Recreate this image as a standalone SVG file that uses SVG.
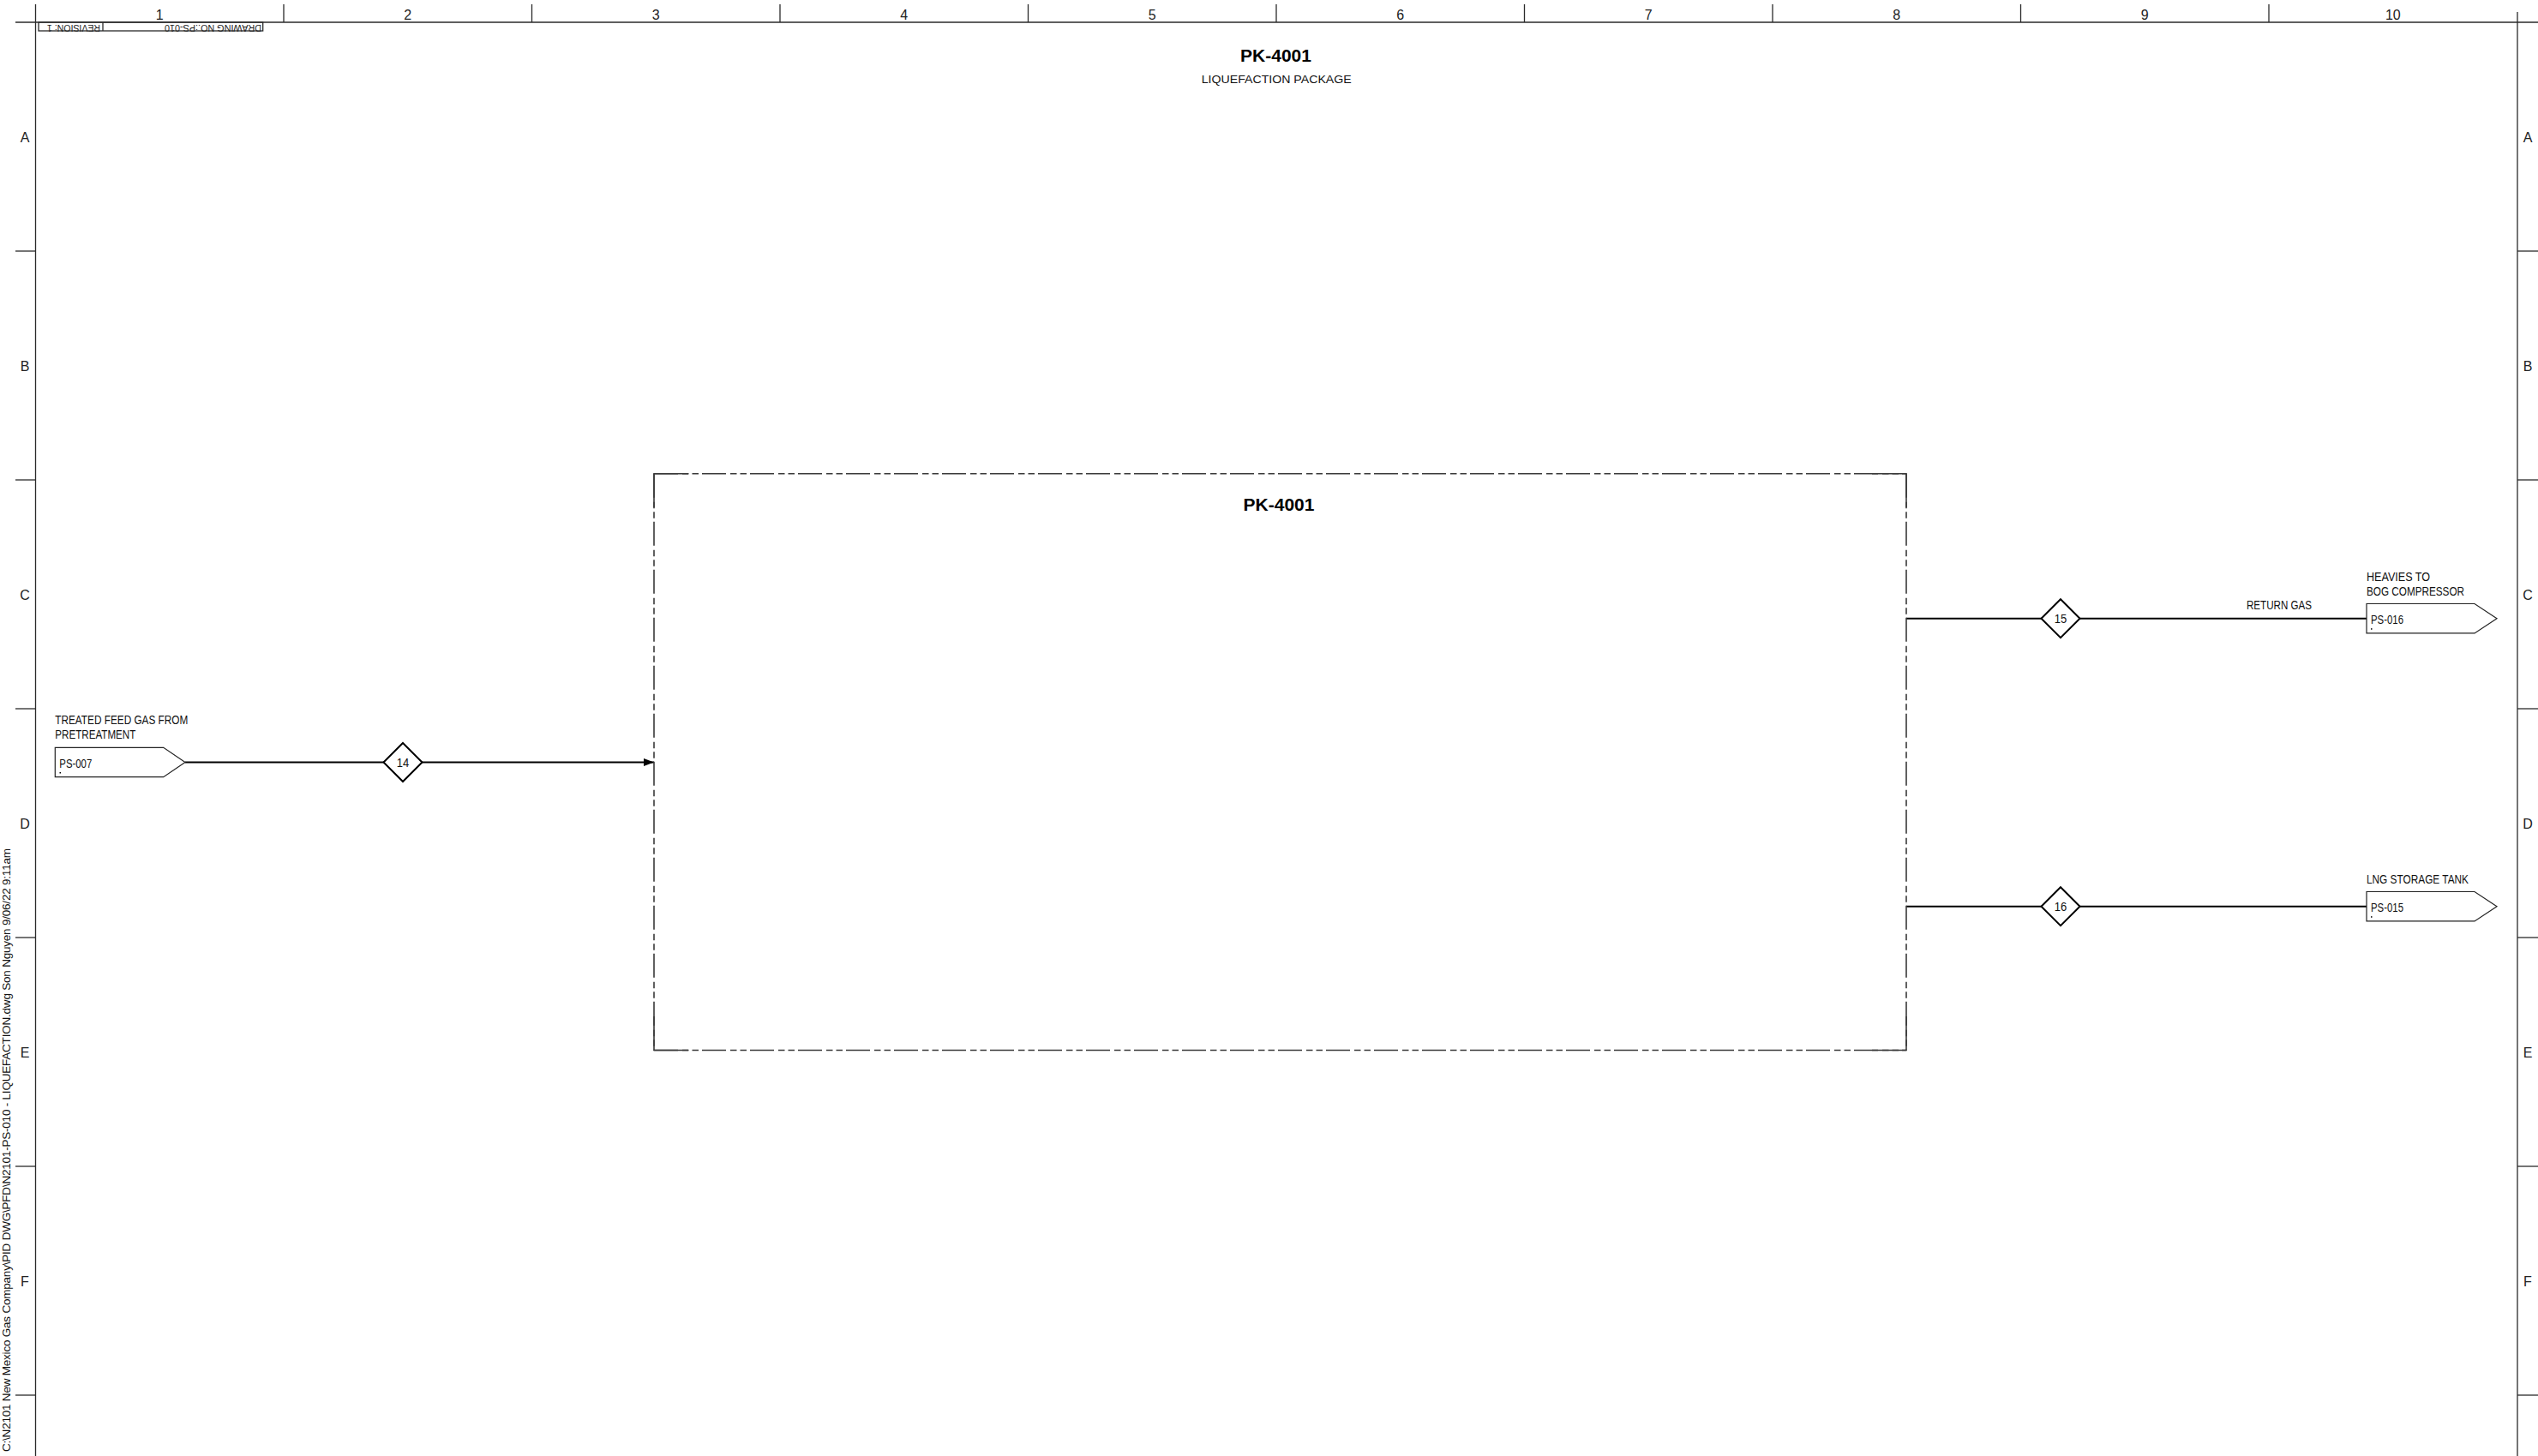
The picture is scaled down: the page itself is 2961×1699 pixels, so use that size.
<svg xmlns="http://www.w3.org/2000/svg" width="2961" height="1699" viewBox="0 0 2961 1699">
<defs>
<style>
.frame{stroke:#2a2a2a;stroke-width:1.3;fill:none}
.grid{font-family:"Liberation Sans",Arial,sans-serif;font-size:16px;fill:#222;text-anchor:middle}
.lbl{font-family:"Liberation Sans",Arial,sans-serif;font-size:14px;fill:#111}
.num{font-family:"Liberation Sans",Arial,sans-serif;font-size:14px;fill:#111;text-anchor:middle}
.ttl{font-family:"Liberation Sans",Arial,sans-serif;font-size:21px;font-weight:bold;fill:#000;text-anchor:middle}
.sub{font-family:"Liberation Sans",Arial,sans-serif;font-size:13.5px;fill:#111}
.cad{font-family:"Liberation Sans",Arial,sans-serif;font-size:10px;fill:#222}
.pipe{stroke:#000;stroke-width:2;fill:none}
.opc{stroke:#222;stroke-width:1.2;fill:#fff}
.dia{stroke:#000;stroke-width:2;fill:#fff}
.pkg{stroke:#3a3a3a;stroke-width:1.6;fill:none;stroke-dasharray:28 5 7.5 4 7.5 4}
.pkgc{stroke:#3a3a3a;stroke-width:1.6;fill:none}
</style>
<marker id="arr" viewBox="0 0 12 10" refX="12" refY="5" markerWidth="12" markerHeight="10" markerUnits="userSpaceOnUse" orient="auto">
<path d="M0,0.5 L12,5 L0,9.5 Z" fill="#000"/>
</marker>
</defs>
<rect x="0" y="0" width="2961" height="1699" fill="#fff"/>

<g id="frame">
<line class="frame" x1="18" y1="26" x2="2961" y2="26"/>
<line class="frame" x1="41.5" y1="5" x2="41.5" y2="1699"/>
<line class="frame" x1="2937" y1="14" x2="2937" y2="1699"/>
<line class="frame" x1="331" y1="5" x2="331" y2="26"/>
<line class="frame" x1="620.5" y1="5" x2="620.5" y2="26"/>
<line class="frame" x1="910" y1="5" x2="910" y2="26"/>
<line class="frame" x1="1199.5" y1="5" x2="1199.5" y2="26"/>
<line class="frame" x1="1489" y1="5" x2="1489" y2="26"/>
<line class="frame" x1="1778.5" y1="5" x2="1778.5" y2="26"/>
<line class="frame" x1="2068" y1="5" x2="2068" y2="26"/>
<line class="frame" x1="2357.5" y1="5" x2="2357.5" y2="26"/>
<line class="frame" x1="2647" y1="5" x2="2647" y2="26"/>
<text class="grid" x="186.3" y="22.5">1</text>
<text class="grid" x="475.8" y="22.5">2</text>
<text class="grid" x="765.3" y="22.5">3</text>
<text class="grid" x="1054.8" y="22.5">4</text>
<text class="grid" x="1344.3" y="22.5">5</text>
<text class="grid" x="1633.8" y="22.5">6</text>
<text class="grid" x="1923.3" y="22.5">7</text>
<text class="grid" x="2212.8" y="22.5">8</text>
<text class="grid" x="2502.3" y="22.5">9</text>
<text class="grid" x="2791.8" y="22.5">10</text>
<line class="frame" x1="18" y1="293" x2="41.5" y2="293"/>
<line class="frame" x1="18" y1="560" x2="41.5" y2="560"/>
<line class="frame" x1="18" y1="827" x2="41.5" y2="827"/>
<line class="frame" x1="18" y1="1094" x2="41.5" y2="1094"/>
<line class="frame" x1="18" y1="1361" x2="41.5" y2="1361"/>
<line class="frame" x1="18" y1="1628" x2="41.5" y2="1628"/>
<line class="frame" x1="2937" y1="293" x2="2961" y2="293"/>
<line class="frame" x1="2937" y1="560" x2="2961" y2="560"/>
<line class="frame" x1="2937" y1="827" x2="2961" y2="827"/>
<line class="frame" x1="2937" y1="1094" x2="2961" y2="1094"/>
<line class="frame" x1="2937" y1="1361" x2="2961" y2="1361"/>
<line class="frame" x1="2937" y1="1628" x2="2961" y2="1628"/>
<text class="grid" x="29" y="165.5">A</text>
<text class="grid" x="29" y="432.5">B</text>
<text class="grid" x="29" y="699.5">C</text>
<text class="grid" x="29" y="966.5">D</text>
<text class="grid" x="29" y="1233.5">E</text>
<text class="grid" x="29" y="1500.5">F</text>
<text class="grid" x="2949" y="165.5">A</text>
<text class="grid" x="2949" y="432.5">B</text>
<text class="grid" x="2949" y="699.5">C</text>
<text class="grid" x="2949" y="966.5">D</text>
<text class="grid" x="2949" y="1233.5">E</text>
<text class="grid" x="2949" y="1500.5">F</text>
<rect class="frame" x="45" y="26" width="261.7" height="10"/>
<line class="frame" x1="120" y1="26" x2="120" y2="36"/>
<text class="cad" transform="rotate(180 117 28.6)" x="117" y="28.6" textLength="62" lengthAdjust="spacingAndGlyphs">REVISION: 1</text>
<text class="cad" transform="rotate(180 305 28.6)" x="305" y="28.6" textLength="113" lengthAdjust="spacingAndGlyphs">DRAWING NO.:PS-010</text>
<text class="sub" transform="rotate(-90 12 990)" x="12" y="990" font-size="11" text-anchor="end" textLength="704">C:\N2101 New Mexico Gas Company\PID DWG\PFD\N2101-PS-010 - LIQUEFACTION.dwg   Son Nguyen 9/06/22 9:11am</text>
</g>

<g id="title">
<text class="ttl" x="1488.5" y="71.7">PK-4001</text>
<text class="sub" x="1401.7" y="96.7" textLength="175" lengthAdjust="spacingAndGlyphs">LIQUEFACTION PACKAGE</text>
</g>

<g id="connectors">
<line class="pipe" x1="216" y1="889.5" x2="763" y2="889.5" marker-end="url(#arr)"/>
<line class="pipe" x1="2224" y1="721.7" x2="2761" y2="721.7"/>
<line class="pipe" x1="2224" y1="1057.7" x2="2761" y2="1057.7"/>
<text class="lbl" x="2621" y="711" textLength="76" lengthAdjust="spacingAndGlyphs">RETURN GAS</text>
</g>

<g id="PK-4001">
<line class="pkg" x1="763" y1="552.7" x2="2224" y2="552.7"/>
<line class="pkg" x1="763" y1="1225.5" x2="2224" y2="1225.5"/>
<line class="pkg" x1="763" y1="552.7" x2="763" y2="1225.5"/>
<line class="pkg" x1="2224" y1="552.7" x2="2224" y2="1225.5"/>
<path class="pkgc" d="M763,592 V552.7 H803 M2184,552.7 H2224 V592 M763,1186 V1225.5 H803 M2184,1225.5 H2224 V1186"/>
<text class="ttl" x="1492" y="596">PK-4001</text>
</g>

<g id="PS-007">
<text class="lbl" x="64.3" y="845" textLength="155" lengthAdjust="spacingAndGlyphs">TREATED FEED GAS FROM</text>
<text class="lbl" x="64.3" y="862.3" textLength="94" lengthAdjust="spacingAndGlyphs">PRETREATMENT</text>
<polygon class="opc" points="64.3,872.3 190.7,872.3 216,889.5 190.7,906.7 64.3,906.7"/>
<text class="lbl" x="69.3" y="896" textLength="38" lengthAdjust="spacingAndGlyphs">PS-007</text>
<rect x="69.5" y="901" width="1.5" height="1.5" fill="#000"/>
</g>

<g id="stream-14">
<polygon class="dia" points="470,867 492.5,889.5 470,912 447.5,889.5"/>
<text class="num" x="470" y="894.5" textLength="14.5" lengthAdjust="spacingAndGlyphs">14</text>
</g>

<g id="stream-15">
<polygon class="dia" points="2404,699.2 2426.5,721.7 2404,744.2 2381.5,721.7"/>
<text class="num" x="2404" y="726.7" textLength="14.5" lengthAdjust="spacingAndGlyphs">15</text>
</g>

<g id="stream-16">
<polygon class="dia" points="2404,1035.2 2426.5,1057.7 2404,1080.2 2381.5,1057.7"/>
<text class="num" x="2404" y="1062.7" textLength="14.5" lengthAdjust="spacingAndGlyphs">16</text>
</g>

<g id="PS-016">
<text class="lbl" x="2761" y="677.5" textLength="74" lengthAdjust="spacingAndGlyphs">HEAVIES TO</text>
<text class="lbl" x="2761" y="694.5" textLength="114" lengthAdjust="spacingAndGlyphs">BOG COMPRESSOR</text>
<polygon class="opc" points="2761,704.5 2887,704.5 2913,721.7 2887,738.9 2761,738.9"/>
<text class="lbl" x="2766" y="728" textLength="38" lengthAdjust="spacingAndGlyphs">PS-016</text>
<rect x="2766" y="733.2" width="1.5" height="1.5" fill="#000"/>
</g>

<g id="PS-015">
<text class="lbl" x="2761" y="1030.5" textLength="119" lengthAdjust="spacingAndGlyphs">LNG STORAGE TANK</text>
<polygon class="opc" points="2761,1040.5 2887,1040.5 2913,1057.7 2887,1074.9 2761,1074.9"/>
<text class="lbl" x="2766" y="1064" textLength="38" lengthAdjust="spacingAndGlyphs">PS-015</text>
<rect x="2766" y="1069.2" width="1.5" height="1.5" fill="#000"/>
</g>
</svg>
